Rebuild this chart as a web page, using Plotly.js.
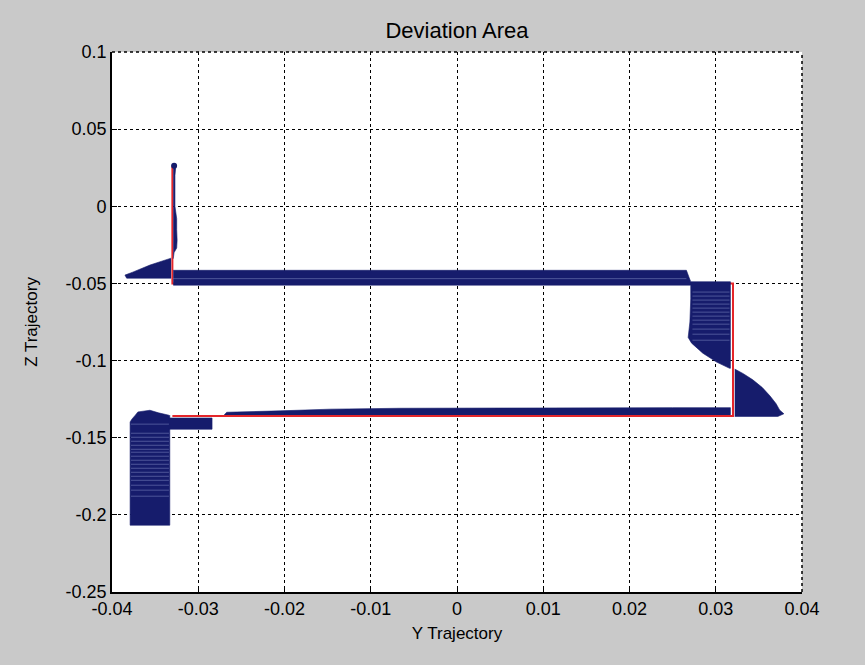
<!DOCTYPE html>
<html>
<head>
<meta charset="utf-8">
<script src="https://cdn.plot.ly/plotly-3.0.1.min.js"></script>
<style>
  html, body { margin: 0; padding: 0; background: #c9c9c9; }
  #chart { width: 865px; height: 665px; }
</style>
</head>
<body>
<div id="chart"></div>
<script>
// Reference trajectory (red)
const refY = [-0.033, -0.033, 0.032, 0.032, -0.033];
const refZ = [0.026, -0.050, -0.050, -0.136, -0.136];

// Deviation areas between actual and reference trajectory, as outlines in (Y, Z)
const sliverY = [-0.0329, -0.0326, -0.0327, -0.0327, -0.0325, -0.0325, -0.03245, -0.0325, -0.0328, -0.0329];
const sliverZ = [0.026, 0.026, 0.020, 0.000, -0.008, -0.015, -0.022, -0.027, -0.030, -0.034];

const wedgeY = [-0.03315, -0.0356, -0.0376, -0.0385, -0.0383, -0.03315];
const wedgeZ = [-0.0336, -0.0381, -0.0427, -0.0446, -0.0466, -0.0466];

const bandY = [-0.0329, 0.0266, 0.0269, 0.0271, 0.0317, 0.0317, 0.0316, 0.0301, 0.0285, 0.0272, 0.0268, 0.0270, 0.0271, 0.0271, -0.0329];
const bandZ = [-0.0415, -0.0415, -0.0460, -0.0489, -0.0489, -0.1050, -0.1050, -0.1010, -0.0952, -0.0887, -0.0850, -0.0750, -0.0600, -0.0511, -0.0511];

const lowY = [-0.0270, -0.0267, -0.0205, -0.0147, -0.0066, 0.0100, 0.0250, 0.0317, 0.0317];
const lowZ = [-0.1352, -0.1335, -0.1326, -0.1315, -0.1309, -0.1307, -0.1305, -0.1305, -0.1352];

const bulgeY = [0.0322, 0.0332, 0.0343, 0.0354, 0.0363, 0.0370, 0.0374, 0.0379, 0.0372, 0.0322];
const bulgeZ = [-0.1055, -0.1085, -0.1125, -0.1175, -0.1230, -0.1280, -0.1320, -0.1345, -0.1362, -0.1362];

const blockY = [-0.0333, -0.0333, -0.0379, -0.0379, -0.0377, -0.0373, -0.0370, -0.0356, -0.0346, -0.0334];
const blockZ = [-0.1354, -0.2067, -0.2067, -0.1398, -0.1380, -0.1354, -0.1333, -0.1322, -0.1339, -0.1354];

const stepY = [-0.0334, -0.0284, -0.0284, -0.0334];
const stepZ = [-0.1372, -0.1372, -0.1445, -0.1445];

// Start point of the actual trajectory
const startY = [-0.0328];
const startZ = [0.0262];

// Light gaps between the deviation strokes
const bandGapZ = [-0.0469];
const bandGapSpan = [-0.0329, 0.0266];
const rightGapZ = [-0.0556, -0.0582, -0.0608, -0.0634, -0.0660, -0.0686, -0.0712, -0.0738, -0.0764, -0.0796, -0.0829, -0.0868];
const rightGapSpan = [0.0273, 0.0316];
const leftGapZ = [-0.1412, -0.1471, -0.1497, -0.1523, -0.1549, -0.1575, -0.1594, -0.1620, -0.1646, -0.1672, -0.1698, -0.1724, -0.1750, -0.1776, -0.1808, -0.1840, -0.1879];
const leftGapSpan = [-0.0378, -0.0334];

// Axis ticks
const xTickVals = [-0.04, -0.03, -0.02, -0.01, 0, 0.01, 0.02, 0.03, 0.04];
const xTickText = ['-0.04', '-0.03', '-0.02', '-0.01', '0', '0.01', '0.02', '0.03', '0.04'];
const yTickVals = [0.1, 0.05, 0, -0.05, -0.1, -0.15, -0.2, -0.25];
const yTickText = ['0.1', '0.05', '0', '-0.05', '-0.1', '-0.15', '-0.2', '-0.25'];

const NAVY = '#161c6c';
const RED = '#e4262a';
const FONT = 'Liberation Sans, Arial, sans-serif';

function area(xs, zs) {
  return {
    x: xs, y: zs, type: 'scatter', mode: 'lines', fill: 'toself',
    fillcolor: NAVY, line: { color: NAVY, width: 0.6, simplify: false },
    hoverinfo: 'skip', showlegend: false
  };
}

function gaps(zs, span) {
  const xs = [], ys = [];
  zs.forEach(z => { xs.push(span[0], span[1], null); ys.push(z, z, null); });
  return { xs, ys };
}

const g1 = gaps(bandGapZ, bandGapSpan);
const g2 = gaps(rightGapZ, rightGapSpan);
const g3 = gaps(leftGapZ, leftGapSpan);

const traces = [
  { x: refY, y: refZ, type: 'scatter', mode: 'lines', line: { color: RED, width: 2 }, hoverinfo: 'skip', showlegend: false },
  area(sliverY, sliverZ),
  area(wedgeY, wedgeZ),
  area(bandY, bandZ),
  area(lowY, lowZ),
  area(bulgeY, bulgeZ),
  area(blockY, blockZ),
  area(stepY, stepZ),
  {
    x: g1.xs.concat(g2.xs, g3.xs), y: g1.ys.concat(g2.ys, g3.ys),
    type: 'scatter', mode: 'lines', connectgaps: false,
    line: { color: 'rgba(160,170,220,0.45)', width: 0.9 }, hoverinfo: 'skip', showlegend: false
  },
  { x: startY, y: startZ, type: 'scatter', mode: 'markers', marker: { color: NAVY, size: 6 }, hoverinfo: 'skip', showlegend: false }
];

const axisCommon = {
  showgrid: true, gridcolor: '#000', griddash: 'dot', gridwidth: 1,
  showline: true, linecolor: '#000', linewidth: 1.8, mirror: false,
  ticks: 'inside', ticklen: 5, tickcolor: '#000',
  zeroline: false, tickfont: { family: FONT, size: 18, color: '#000' },
  fixedrange: true
};

const layout = {
  width: 865, height: 665,
  paper_bgcolor: '#c9c9c9', plot_bgcolor: '#ffffff',
  margin: { l: 112, r: 63, t: 52, b: 73 },
  title: {
    text: 'Deviation Area', font: { family: FONT, size: 22, color: '#000' },
    xref: 'paper', x: 0.5, xanchor: 'center', yref: 'container', y: 0.955, yanchor: 'middle'
  },
  xaxis: Object.assign({}, axisCommon, {
    range: [-0.04, 0.04], tickmode: 'array', tickvals: xTickVals, ticktext: xTickText,
    title: { text: 'Y Trajectory', font: { family: FONT, size: 17, color: '#000' }, standoff: 9 }
  }),
  yaxis: Object.assign({}, axisCommon, {
    range: [-0.25, 0.1], tickmode: 'array', tickvals: yTickVals, ticktext: yTickText,
    title: { text: 'Z Trajectory', font: { family: FONT, size: 17, color: '#000' }, standoff: 24 }
  }),
  shapes: [
    { type: 'line', xref: 'paper', yref: 'paper', x0: 0, x1: 1, y0: 1, y1: 1, line: { color: '#000', width: 1.5, dash: 'dot' } },
    { type: 'line', xref: 'paper', yref: 'paper', x0: 1, x1: 1, y0: 0, y1: 1, line: { color: '#000', width: 1.5, dash: 'dot' } }
  ]
};

Plotly.newPlot('chart', traces, layout, { displayModeBar: false, staticPlot: true });
</script>
</body>
</html>
